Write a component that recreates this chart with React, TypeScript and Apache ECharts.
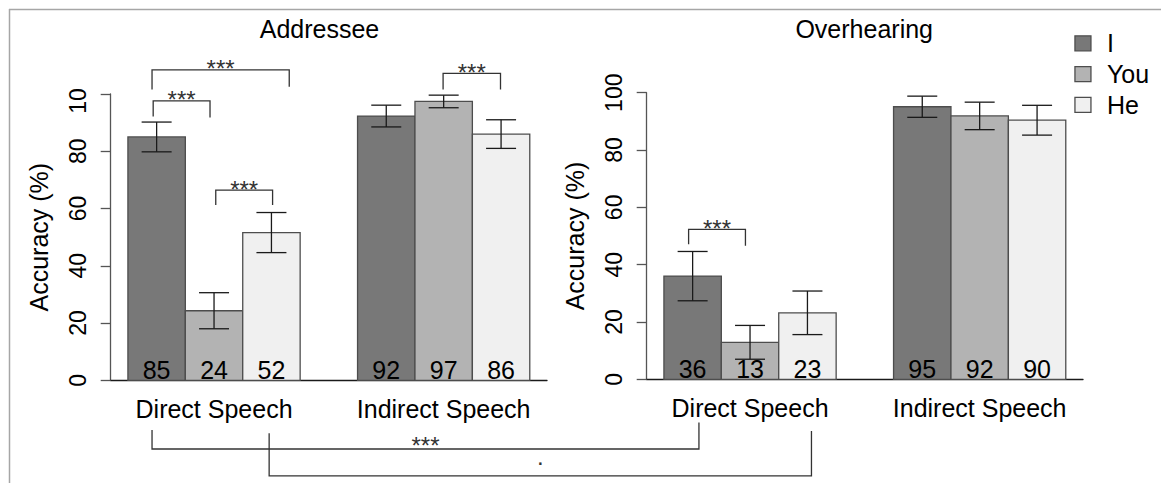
import React, { useEffect, useRef } from "react";
import * as echarts from "echarts";

const panelTitles = ["Addressee", "Overhearing"];
const groupLabels = ["Direct Speech", "Indirect Speech"];
const pronouns = ["I", "You", "He"];
const barColors = ["#787878", "#b3b3b3", "#f0f0f0"];

// mean accuracy (%) — rows: Direct / Indirect speech, columns: I / You / He
const addresseeMeans = [
  [85.0, 24.3, 51.6],
  [92.3, 97.4, 86.0],
];
const addresseeErrors = [
  [5.2, 6.3, 7.0],
  [3.8, 2.2, 5.0],
];
const overhearingMeans = [
  [36.0, 12.9, 23.2],
  [95.1, 91.9, 90.4],
];
const overhearingErrors = [
  [8.6, 5.9, 7.6],
  [3.7, 4.8, 5.2],
];

const yTickValues = [0, 20, 40, 60, 80, 100];

// significance brackets inside a panel: [xStart, xEnd, yLine, yLegStart, yLegEnd]
const addresseeBrackets = [
  [1.42, 3.81, 108.4, 101.6, 102.5],
  [1.44, 2.43, 97.6, 92.1, 91.8],
  [2.53, 3.52, 66.4, 61.2, 61.2],
  [6.49, 7.49, 107.2, 101.6, 101.6],
];
const addresseeBracketLabels = ["***", "***", "***", "***"];
const overhearingBrackets = [[1.43, 2.42, 52.3, 47.1, 46.6]];
const overhearingBracketLabels = ["***"];

// brackets between panels: [xAddressee, legTopAddressee, xOverhearing, legTopOverhearing, yLine (Addressee scale)]
const crossBrackets = [
  [1.42, -17.4, 1.61, -15.1, -24.0],
  [3.46, -18.5, 3.57, -18.0, -33.4],
];
const crossBracketLabels = ["***", "."];

const FONT = "'Liberation Sans', Arial, Helvetica, sans-serif";
const STROKE = "#333333";
const FS = 25;

function barSeries(panel: number, k: number, means: number[][], errs: number[][]) {
  return {
    type: "custom",
    name: pronouns[k],
    xAxisIndex: panel,
    yAxisIndex: panel,
    silent: true,
    itemStyle: { color: barColors[k] },
    data: groupLabels.map((_, gi) => [1.5 + gi * 4 + k, means[gi][k], errs[gi][k]]),
    renderItem: (params: any, api: any) => {
      const x = api.value(0);
      const m = api.value(1);
      const e = api.value(2);
      const p0 = api.coord([x - 0.5, m]);
      const p1 = api.coord([x + 0.5, 0]);
      const hi = api.coord([x, m + e]);
      const lo = api.coord([x, m - e]);
      const cx = hi[0];
      const cap = 15;
      const ls = { stroke: "#1a1a1a", lineWidth: 1.3 };
      return {
        type: "group",
        children: [
          {
            type: "rect",
            shape: { x: p0[0], y: p0[1], width: p1[0] - p0[0], height: p1[1] - p0[1] },
            style: { fill: barColors[k], stroke: "#4d4d4d", lineWidth: 1.3 },
          },
          {
            type: "text",
            x: cx,
            y: p1[1] - 10.6,
            style: {
              text: String(Math.round(m)),
              fill: "#000",
              fontSize: FS,
              fontFamily: FONT,
              align: "center",
              verticalAlign: "middle",
            },
          },
          { type: "line", shape: { x1: cx, y1: hi[1], x2: cx, y2: lo[1] }, style: ls },
          { type: "line", shape: { x1: cx - cap, y1: hi[1], x2: cx + cap, y2: hi[1] }, style: ls },
          { type: "line", shape: { x1: cx - cap, y1: lo[1], x2: cx + cap, y2: lo[1] }, style: ls },
        ],
      };
    },
  };
}

function groupLabelSeries(panel: number) {
  return {
    type: "custom",
    name: "group-labels-" + panel,
    xAxisIndex: panel,
    yAxisIndex: panel,
    silent: true,
    data: groupLabels.map((_, gi) => [2.5 + gi * 4, 0]),
    renderItem: (params: any, api: any) => {
      const p = api.coord([api.value(0), api.value(1)]);
      return {
        type: "text",
        x: p[0],
        y: p[1] + 28.3,
        style: {
          text: groupLabels[params.dataIndex],
          fill: "#000",
          fontSize: FS,
          fontFamily: FONT,
          align: "center",
          verticalAlign: "middle",
        },
      };
    },
  };
}

function bracketSeries(panel: number, brackets: number[][], labels: string[]) {
  return {
    type: "custom",
    name: "brackets-" + panel,
    xAxisIndex: panel,
    yAxisIndex: panel,
    silent: true,
    data: brackets.map((b) => b.slice()),
    renderItem: (params: any, api: any) => {
      const x1 = api.value(0);
      const x2 = api.value(1);
      const y = api.value(2);
      const a = api.coord([x1, api.value(3)]);
      const c = api.coord([x1, y]);
      const d = api.coord([x2, y]);
      const f = api.coord([x2, api.value(4)]);
      return {
        type: "group",
        children: [
          {
            type: "polyline",
            shape: { points: [a, c, d, f] },
            style: { stroke: STROKE, lineWidth: 1.3, fill: null },
          },
          {
            type: "text",
            x: (c[0] + d[0]) / 2,
            y: c[1] - 1.1,
            style: {
              text: labels[params.dataIndex],
              fill: STROKE,
              fontSize: 24,
              fontFamily: FONT,
              align: "center",
              verticalAlign: "middle",
            },
          },
        ],
      };
    },
  };
}

export default function App() {
  const ref = useRef<HTMLDivElement>(null);

  useEffect(() => {
    if (!ref.current) return;
    const chart = echarts.init(ref.current, undefined, { renderer: "svg" });
    const yMin = yTickValues[0];
    const yMax = yTickValues[yTickValues.length - 1];
    const yInterval = yTickValues[1] - yTickValues[0];

    const grids = [
      { left: 110.7, top: 94, width: 436.3, height: 286.3 },
      { left: 646.7, top: 92.7, width: 436.3, height: 286.6 },
    ];

    const option: any = {
      animation: false,
      backgroundColor: "#ffffff",
      textStyle: { fontFamily: FONT },
      title: [
        { text: panelTitles[0], left: 319.5, top: 16 },
        { text: panelTitles[1], left: 864.2, top: 16 },
      ].map((t) => ({
        ...t,
        padding: 0,
        textAlign: "center",
        textVerticalAlign: "top",
        textStyle: { fontSize: FS, fontWeight: "normal", color: "#000", fontFamily: FONT },
      })),
      legend: {
        orient: "vertical",
        left: 1069.3,
        top: 25.8,
        itemWidth: 16,
        itemHeight: 15,
        itemGap: 5.8,
        selectedMode: false,
        textStyle: { fontSize: FS, color: "#000", fontFamily: FONT, lineHeight: 25, padding: [0, 0, 0, 11] },
        data: pronouns.map((n, i) => ({
          name: n,
          icon: "rect",
          itemStyle: { color: barColors[i], borderColor: "#4d4d4d", borderWidth: 1.3 },
        })),
      },
      grid: grids.map((g) => ({ ...g, containLabel: false, outerBoundsMode: "none" })),
      xAxis: [0, 1].map((i) => ({
        type: "value",
        gridIndex: i,
        min: 0.7,
        max: 8.3,
        axisLine: { show: true, onZero: false, lineStyle: { color: "#1a1a1a", width: 1.3 } },
        axisTick: { show: false },
        axisLabel: { show: false },
        splitLine: { show: false },
      })),
      yAxis: [0, 1].map((i) => ({
        type: "value",
        gridIndex: i,
        min: yMin,
        max: yMax,
        interval: yInterval,
        axisLine: { show: true, lineStyle: { color: "#555", width: 1.3 } },
        axisTick: { show: true, length: 10, lineStyle: { color: "#555", width: 1.3 } },
        axisLabel: {
          rotate: 90,
          margin: 21.2,
          fontSize: 23,
          color: "#000",
          fontFamily: FONT,
          formatter: (v: number) => (i === 0 && v === yMax ? "{clip|10}" : String(v)),
          rich: { clip: { padding: [0, 14, 0, 0], fontSize: 23, color: "#000", fontFamily: FONT } },
        },
        splitLine: { show: false },
        name: "Accuracy (%)",
        nameLocation: "middle",
        nameRotate: 90,
        nameGap: 59.4,
        nameTextStyle: { fontSize: FS, color: "#000", fontFamily: FONT },
      })),
      series: [
        ...pronouns.map((_, k) => barSeries(0, k, addresseeMeans, addresseeErrors)),
        ...pronouns.map((_, k) => barSeries(1, k, overhearingMeans, overhearingErrors)),
        groupLabelSeries(0),
        groupLabelSeries(1),
        bracketSeries(0, addresseeBrackets, addresseeBracketLabels),
        bracketSeries(1, overhearingBrackets, overhearingBracketLabels),
      ],
    };
    chart.setOption(option);

    const px = (panel: number, x: number, y: number) =>
      chart.convertToPixel({ gridIndex: panel } as any, [x, y]) as number[];

    const graphics: any[] = [
      { type: "line", shape: { x1: 9, y1: 9.5, x2: 1161, y2: 9.5 }, style: { stroke: "#a6a6a6", lineWidth: 1.5 } },
      { type: "line", shape: { x1: 9.5, y1: 9, x2: 9.5, y2: 483 }, style: { stroke: "#a6a6a6", lineWidth: 1.5 } },
    ];
    crossBrackets.forEach((b, i) => {
      const a = px(0, b[0], b[1]);
      const line = px(0, b[0], b[4]);
      const f = px(1, b[2], b[3]);
      const yLine = line[1];
      const pts = [a, [a[0], yLine], [f[0], yLine], f];
      graphics.push({ type: "polyline", shape: { points: pts }, style: { stroke: STROKE, lineWidth: 1.3, fill: null } });
      const isDot = crossBracketLabels[i] === ".";
      graphics.push({
        type: "text",
        x: (a[0] + f[0]) / 2,
        y: yLine - (isDot ? 19.8 : 3.6),
        style: {
          text: crossBracketLabels[i],
          fill: STROKE,
          fontSize: 24,
          fontFamily: FONT,
          align: "center",
          verticalAlign: "middle",
        },
      });
    });
    chart.setOption({ graphic: graphics });

    return () => chart.dispose();
  }, []);

  return (
    <div
      ref={ref}
      style={{ position: "fixed", left: 0, top: 0, width: 1161, height: 483, background: "#fff" }}
    />
  );
}
